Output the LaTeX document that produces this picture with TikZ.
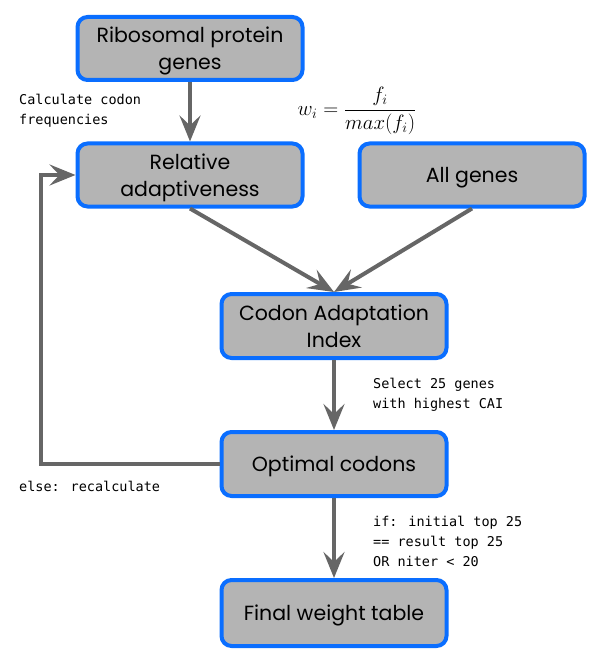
\documentclass[tikz,border=0pt]{standalone}
\usepackage{fontspec}
\newfontfamily\boxfont{Poppins}
\newfontfamily\monofont{DejaVu Sans Mono}
\usetikzlibrary{arrows.meta}
\definecolor{boxblue}{RGB}{10,110,255}
\definecolor{boxgray}{RGB}{180,180,180}
\definecolor{arrgray}{RGB}{102,102,102}
\tikzset{
  stepbox/.style={rectangle, rounded corners=10pt, draw=boxblue, line width=4pt, fill=boxgray,
    minimum width=225pt, minimum height=63pt, align=center, inner sep=2pt, text depth=-2pt,
    font=\boxfont\fontsize{20.5}{27}\selectfont, text=black},
  arr/.style={draw=arrgray, line width=4pt, -{Stealth[length=26pt, width=21pt, inset=10pt, fill=arrgray]}},
  lbl/.style={font=\monofont\fontsize{13.5}{20}\selectfont, align=left, inner sep=0pt, anchor=north west}
}
\begin{document}
\begin{tikzpicture}[x=1pt,y=-1pt]
\path[use as bounding box] (0,0) rectangle (613,663);
\node[stepbox] (rib) at (190,48.5) {Ribosomal protein\\genes};
\node[stepbox] (rel) at (190,175) {Relative\\adaptiveness};
\node[stepbox] (all) at (472,175) {All genes};
\node[stepbox, minimum height=64pt] (cai) at (334,326) {Codon Adaptation\\Index};
\node[stepbox, minimum height=64pt] (opt) at (334,464) {Optimal codons};
\node[stepbox, minimum height=66pt] (fin) at (334,613) {Final weight table};
\coordinate (loopx) at (41,0);
\draw[arr] (rib.south) -- (rel.north);
\draw[arr] (rel.south) -- (cai.north);
\draw[arr] (all.south) -- (cai.north);
\draw[arr] (cai.south) -- (opt.north);
\draw[arr] (opt.south) -- (fin.north);
\draw[arr] (opt.west) -- (opt.west -| loopx) -- (rel.west -| loopx) -- (rel.west);
\node[lbl] (l1) at (19,94) {Calculate codon\\frequencies};
\node[lbl] (l2) at (373,378) {Select 25 genes\\with highest CAI};
\node[lbl] (l3) at (19,481) {else: recalculate};
\node[lbl] (l4) at (373,516) {if: initial top 25\\== result top 25\\OR niter < 20};
\node[font=\fontsize{20}{24}\selectfont, inner sep=0pt] (fml) at (357,111) {$\displaystyle w_i=\frac{f_i}{max(f_i)}$};
\end{tikzpicture}
\end{document}
